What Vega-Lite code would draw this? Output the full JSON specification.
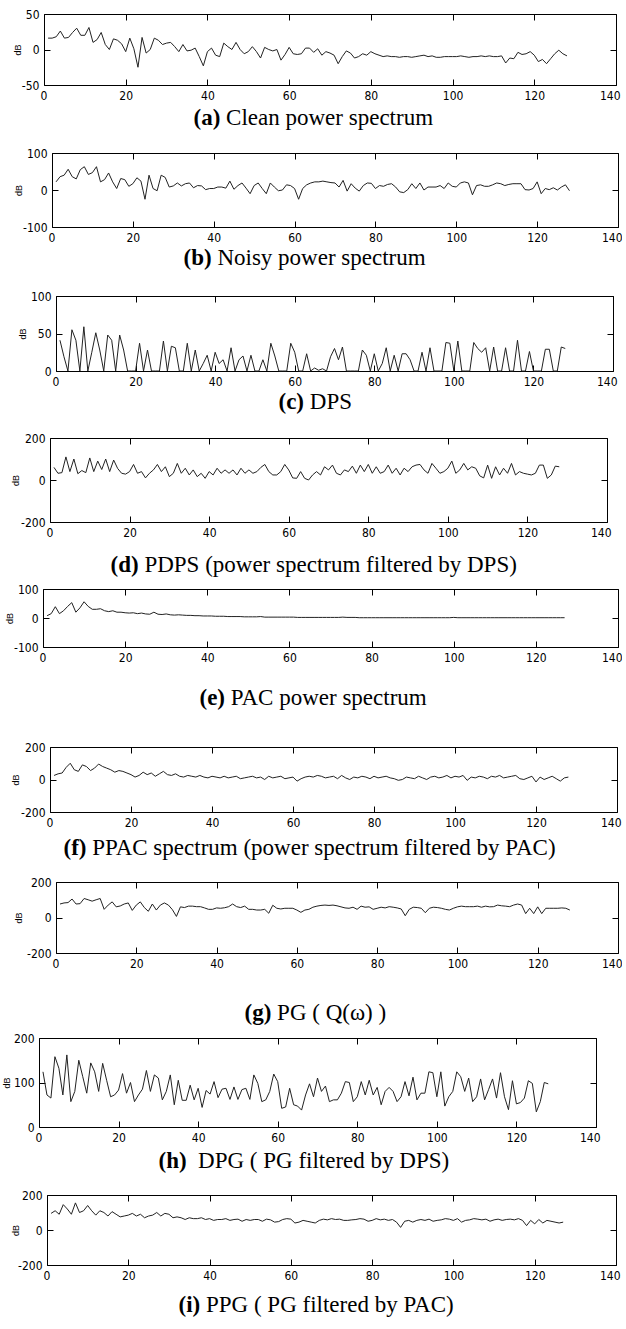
{
"$schema":"https://vega.github.io/schema/vega-lite/v6.json",
"padding":{"left":0,"top":8,"right":0,"bottom":0},
"background":"white",
"data":{"values":[
{"x":1,"a":16,"b":22,"c":41,"d":60,"e":8,"f":25,"g":76,"h":124,"i":95},
{"x":2,"a":16,"b":36,"c":19,"d":32,"e":15,"f":35,"g":82,"h":72,"i":110},
{"x":3,"a":18,"b":40,"c":0,"d":35,"e":39,"f":40,"g":84,"h":65,"i":90},
{"x":4,"a":26,"b":56,"c":55,"d":110,"e":15,"f":75,"g":104,"h":158,"i":145},
{"x":5,"a":16,"b":36,"c":41,"d":40,"e":25,"f":100,"g":76,"h":132,"i":120},
{"x":6,"a":17,"b":30,"c":0,"d":100,"e":40,"f":60,"g":78,"h":72,"i":90},
{"x":7,"a":24,"b":55,"c":59,"d":30,"e":53,"f":50,"g":107,"h":162,"i":155},
{"x":8,"a":30,"b":63,"c":0,"d":45,"e":20,"f":90,"g":100,"h":57,"i":100},
{"x":9,"a":20,"b":42,"c":25,"d":35,"e":35,"f":80,"g":92,"h":80,"i":110},
{"x":10,"a":20,"b":47,"c":51,"d":105,"e":56,"f":55,"g":100,"h":150,"i":140},
{"x":11,"a":31,"b":63,"c":28,"d":40,"e":40,"f":70,"g":107,"h":113,"i":110},
{"x":12,"a":10,"b":22,"c":0,"d":90,"e":30,"f":95,"g":46,"h":76,"i":85},
{"x":13,"a":14,"b":28,"c":48,"d":50,"e":30,"f":80,"g":70,"h":144,"i":110},
{"x":14,"a":24,"b":46,"c":41,"d":100,"e":32,"f":70,"g":88,"h":124,"i":100},
{"x":15,"a":7,"b":22,"c":0,"d":40,"e":25,"f":60,"g":60,"h":80,"i":80},
{"x":16,"a":0,"b":4,"c":48,"d":95,"e":22,"f":45,"g":65,"h":143,"i":105},
{"x":17,"a":15,"b":31,"c":28,"d":55,"e":25,"f":55,"g":76,"h":105,"i":90},
{"x":18,"a":13,"b":28,"c":0,"d":32,"e":20,"f":50,"g":82,"h":68,"i":75},
{"x":19,"a":8,"b":10,"c":0,"d":28,"e":20,"f":40,"g":40,"h":72,"i":80},
{"x":20,"a":-3,"b":17,"c":0,"d":40,"e":18,"f":30,"g":70,"h":83,"i":85},
{"x":21,"a":16,"b":33,"c":37,"d":74,"e":17,"f":15,"g":88,"h":120,"i":95},
{"x":22,"a":1,"b":24,"c":0,"d":32,"e":18,"f":25,"g":56,"h":76,"i":80},
{"x":23,"a":-25,"b":-25,"c":28,"d":40,"e":15,"f":45,"g":35,"h":100,"i":90},
{"x":24,"a":17,"b":40,"c":0,"d":10,"e":17,"f":30,"g":76,"h":57,"i":70},
{"x":25,"a":-5,"b":4,"c":0,"d":32,"e":14,"f":40,"g":42,"h":72,"i":80},
{"x":26,"a":0,"b":-2,"c":0,"d":48,"e":13,"f":20,"g":70,"h":85,"i":85},
{"x":27,"a":16,"b":40,"c":40,"d":74,"e":20,"f":35,"g":82,"h":127,"i":100},
{"x":28,"a":13,"b":34,"c":0,"d":40,"e":13,"f":50,"g":70,"h":80,"i":80},
{"x":29,"a":7,"b":8,"c":33,"d":63,"e":12,"f":30,"g":44,"h":117,"i":95},
{"x":30,"a":9,"b":11,"c":31,"d":16,"e":14,"f":25,"g":6,"h":110,"i":90},
{"x":31,"a":10,"b":19,"c":0,"d":32,"e":11,"f":35,"g":60,"h":61,"i":70},
{"x":32,"a":4,"b":11,"c":0,"d":79,"e":10,"f":20,"g":56,"h":80,"i":75},
{"x":33,"a":-3,"b":17,"c":37,"d":32,"e":11,"f":15,"g":64,"h":117,"i":70},
{"x":34,"a":7,"b":19,"c":0,"d":56,"e":10,"f":25,"g":64,"h":50,"i":60},
{"x":35,"a":-2,"b":6,"c":28,"d":24,"e":9,"f":20,"g":61,"h":105,"i":70},
{"x":36,"a":-1,"b":12,"c":0,"d":48,"e":9,"f":15,"g":61,"h":60,"i":65},
{"x":37,"a":2,"b":11,"c":10,"d":16,"e":8,"f":25,"g":54,"h":60,"i":65},
{"x":38,"a":-10,"b":1,"c":21,"d":32,"e":8,"f":15,"g":46,"h":94,"i":70},
{"x":39,"a":-23,"b":4,"c":0,"d":8,"e":7,"f":10,"g":46,"h":61,"i":60},
{"x":40,"a":-3,"b":4,"c":25,"d":40,"e":7,"f":20,"g":54,"h":87,"i":65},
{"x":41,"a":2,"b":8,"c":10,"d":24,"e":7,"f":15,"g":52,"h":44,"i":55},
{"x":42,"a":-8,"b":8,"c":15,"d":56,"e":6,"f":10,"g":55,"h":82,"i":60},
{"x":43,"a":-10,"b":5,"c":0,"d":32,"e":6,"f":20,"g":61,"h":74,"i":60},
{"x":44,"a":9,"b":24,"c":31,"d":48,"e":6,"f":10,"g":76,"h":102,"i":65},
{"x":45,"a":4,"b":2,"c":0,"d":32,"e":5,"f":15,"g":61,"h":66,"i":55},
{"x":46,"a":0,"b":12,"c":15,"d":48,"e":5,"f":20,"g":56,"h":85,"i":60},
{"x":47,"a":10,"b":19,"c":20,"d":24,"e":5,"f":5,"g":64,"h":87,"i":62},
{"x":48,"a":0,"b":5,"c":0,"d":56,"e":5,"f":10,"g":46,"h":62,"i":50},
{"x":49,"a":-6,"b":-10,"c":21,"d":32,"e":4,"f":15,"g":46,"h":90,"i":60},
{"x":50,"a":-3,"b":12,"c":0,"d":48,"e":4,"f":20,"g":42,"h":62,"i":55},
{"x":51,"a":4,"b":19,"c":0,"d":32,"e":4,"f":10,"g":42,"h":84,"i":60},
{"x":52,"a":-3,"b":4,"c":15,"d":40,"e":4,"f":15,"g":46,"h":87,"i":60},
{"x":53,"a":-12,"b":-10,"c":0,"d":60,"e":5,"f":0,"g":24,"h":62,"i":50},
{"x":54,"a":3,"b":19,"c":37,"d":74,"e":3,"f":20,"g":69,"h":117,"i":62},
{"x":55,"a":0,"b":8,"c":20,"d":40,"e":3,"f":10,"g":52,"h":98,"i":58},
{"x":56,"a":-2,"b":-2,"c":0,"d":24,"e":3,"f":15,"g":48,"h":57,"i":45},
{"x":57,"a":0,"b":0,"c":0,"d":24,"e":3,"f":20,"g":52,"h":61,"i":48},
{"x":58,"a":-15,"b":14,"c":0,"d":40,"e":3,"f":5,"g":52,"h":80,"i":60},
{"x":59,"a":-7,"b":12,"c":37,"d":74,"e":3,"f":10,"g":52,"h":119,"i":65},
{"x":60,"a":3,"b":4,"c":25,"d":48,"e":3,"f":15,"g":42,"h":102,"i":62},
{"x":61,"a":-6,"b":-25,"c":0,"d":10,"e":3,"f":-10,"g":29,"h":42,"i":40},
{"x":62,"a":-7,"b":4,"c":0,"d":8,"e":2,"f":5,"g":42,"h":45,"i":45},
{"x":63,"a":-6,"b":14,"c":23,"d":40,"e":2,"f":15,"g":46,"h":87,"i":55},
{"x":64,"a":2,"b":19,"c":0,"d":8,"e":2,"f":20,"g":58,"h":50,"i":50},
{"x":65,"a":2,"b":22,"c":4,"d":0,"e":2,"f":15,"g":64,"h":47,"i":45},
{"x":66,"a":-4,"b":22,"c":1,"d":24,"e":2,"f":25,"g":68,"h":38,"i":40},
{"x":67,"a":1,"b":24,"c":3,"d":40,"e":2,"f":20,"g":70,"h":72,"i":55},
{"x":68,"a":-8,"b":22,"c":0,"d":24,"e":2,"f":10,"g":68,"h":97,"i":62},
{"x":69,"a":-3,"b":20,"c":19,"d":63,"e":2,"f":15,"g":70,"h":68,"i":58},
{"x":70,"a":-5,"b":19,"c":30,"d":48,"e":2,"f":20,"g":66,"h":110,"i":65},
{"x":71,"a":-8,"b":8,"c":15,"d":71,"e":2,"f":5,"g":60,"h":80,"i":60},
{"x":72,"a":-20,"b":26,"c":32,"d":32,"e":2,"f":25,"g":54,"h":92,"i":62},
{"x":73,"a":-10,"b":-3,"c":0,"d":24,"e":3,"f":10,"g":52,"h":57,"i":55},
{"x":74,"a":-2,"b":17,"c":0,"d":48,"e":2,"f":0,"g":58,"h":61,"i":55},
{"x":75,"a":-5,"b":5,"c":0,"d":40,"e":2,"f":15,"g":46,"h":61,"i":58},
{"x":76,"a":-12,"b":-3,"c":0,"d":66,"e":2,"f":10,"g":64,"h":76,"i":60},
{"x":77,"a":-10,"b":12,"c":28,"d":32,"e":1,"f":20,"g":58,"h":102,"i":65},
{"x":78,"a":-6,"b":19,"c":21,"d":71,"e":1,"f":15,"g":60,"h":100,"i":62},
{"x":79,"a":-8,"b":18,"c":0,"d":40,"e":1,"f":5,"g":46,"h":57,"i":50},
{"x":80,"a":-3,"b":4,"c":23,"d":74,"e":1,"f":20,"g":52,"h":68,"i":55},
{"x":81,"a":-6,"b":12,"c":0,"d":32,"e":1,"f":10,"g":58,"h":102,"i":65},
{"x":82,"a":-8,"b":10,"c":10,"d":63,"e":1,"f":15,"g":54,"h":72,"i":58},
{"x":83,"a":-10,"b":15,"c":31,"d":32,"e":1,"f":20,"g":61,"h":105,"i":62},
{"x":84,"a":-9,"b":17,"c":0,"d":40,"e":1,"f":10,"g":58,"h":72,"i":55},
{"x":85,"a":-10,"b":8,"c":21,"d":71,"e":1,"f":5,"g":54,"h":89,"i":60},
{"x":86,"a":-10,"b":-5,"c":0,"d":32,"e":1,"f":-5,"g":48,"h":50,"i":45},
{"x":87,"a":-11,"b":-7,"c":23,"d":56,"e":1,"f":0,"g":10,"h":80,"i":15},
{"x":88,"a":-10,"b":1,"c":23,"d":24,"e":1,"f":15,"g":46,"h":89,"i":50},
{"x":89,"a":-10,"b":17,"c":15,"d":56,"e":1,"f":10,"g":58,"h":80,"i":55},
{"x":90,"a":-11,"b":4,"c":0,"d":40,"e":1,"f":5,"g":56,"h":57,"i":45},
{"x":91,"a":-10,"b":19,"c":0,"d":63,"e":1,"f":20,"g":52,"h":68,"i":55},
{"x":92,"a":-9,"b":0,"c":25,"d":71,"e":1,"f":10,"g":27,"h":102,"i":60},
{"x":93,"a":-8,"b":8,"c":0,"d":74,"e":1,"f":0,"g":52,"h":70,"i":55},
{"x":94,"a":-10,"b":8,"c":31,"d":48,"e":1,"f":15,"g":58,"h":112,"i":62},
{"x":95,"a":-9,"b":8,"c":0,"d":32,"e":1,"f":20,"g":56,"h":61,"i":50},
{"x":96,"a":-11,"b":12,"c":0,"d":79,"e":1,"f":10,"g":52,"h":76,"i":55},
{"x":97,"a":-11,"b":4,"c":0,"d":56,"e":1,"f":15,"g":46,"h":76,"i":58},
{"x":98,"a":-10,"b":19,"c":38,"d":32,"e":1,"f":25,"g":42,"h":124,"i":65},
{"x":99,"a":-10,"b":10,"c":37,"d":40,"e":1,"f":10,"g":52,"h":122,"i":62},
{"x":100,"a":-10,"b":8,"c":0,"d":56,"e":2,"f":20,"g":60,"h":68,"i":55},
{"x":101,"a":-10,"b":19,"c":40,"d":90,"e":1,"f":15,"g":64,"h":124,"i":65},
{"x":102,"a":-9,"b":22,"c":0,"d":32,"e":1,"f":25,"g":61,"h":47,"i":45},
{"x":103,"a":-10,"b":19,"c":0,"d":48,"e":1,"f":-5,"g":61,"h":68,"i":55},
{"x":104,"a":-11,"b":-13,"c":0,"d":79,"e":1,"f":15,"g":61,"h":80,"i":58},
{"x":105,"a":-10,"b":12,"c":38,"d":48,"e":1,"f":10,"g":64,"h":124,"i":65},
{"x":106,"a":-10,"b":14,"c":30,"d":63,"e":1,"f":20,"g":58,"h":113,"i":62},
{"x":107,"a":-9,"b":10,"c":25,"d":56,"e":1,"f":15,"g":64,"h":80,"i":58},
{"x":108,"a":-10,"b":10,"c":31,"d":20,"e":1,"f":5,"g":60,"h":110,"i":62},
{"x":109,"a":-9,"b":14,"c":0,"d":10,"e":1,"f":20,"g":61,"h":57,"i":50},
{"x":110,"a":-10,"b":19,"c":32,"d":71,"e":1,"f":15,"g":70,"h":68,"i":58},
{"x":111,"a":-10,"b":17,"c":0,"d":8,"e":1,"f":25,"g":66,"h":108,"i":62},
{"x":112,"a":-9,"b":12,"c":0,"d":63,"e":1,"f":10,"g":64,"h":61,"i":55},
{"x":113,"a":-19,"b":15,"c":31,"d":24,"e":1,"f":15,"g":61,"h":84,"i":60},
{"x":114,"a":-12,"b":17,"c":0,"d":56,"e":1,"f":20,"g":70,"h":108,"i":62},
{"x":115,"a":-13,"b":17,"c":0,"d":32,"e":1,"f":25,"g":76,"h":65,"i":58},
{"x":116,"a":-4,"b":17,"c":41,"d":79,"e":1,"f":5,"g":70,"h":122,"i":65},
{"x":117,"a":-7,"b":1,"c":0,"d":24,"e":1,"f":0,"g":22,"h":68,"i":55},
{"x":118,"a":-6,"b":0,"c":0,"d":40,"e":1,"f":10,"g":52,"h":39,"i":25},
{"x":119,"a":-3,"b":4,"c":26,"d":32,"e":1,"f":20,"g":22,"h":104,"i":55},
{"x":120,"a":-8,"b":22,"c":0,"d":28,"e":1,"f":-15,"g":60,"h":52,"i":35},
{"x":121,"a":-17,"b":-10,"c":0,"d":24,"e":1,"f":15,"g":22,"h":55,"i":60},
{"x":122,"a":-14,"b":4,"c":0,"d":32,"e":1,"f":0,"g":52,"h":65,"i":40},
{"x":123,"a":-20,"b":1,"c":29,"d":71,"e":1,"f":10,"g":52,"h":104,"i":55},
{"x":124,"a":-13,"b":6,"c":29,"d":71,"e":1,"f":20,"g":52,"h":98,"i":50},
{"x":125,"a":-6,"b":0,"c":0,"d":8,"e":1,"f":5,"g":52,"h":34,"i":45},
{"x":126,"a":-1,"b":8,"c":0,"d":24,"e":1,"f":-10,"g":54,"h":57,"i":40},
{"x":127,"a":-6,"b":14,"c":32,"d":66,"e":1,"f":10,"g":52,"h":100,"i":45},
{"x":128,"a":-9,"b":-2,"c":30,"d":63,"e":null,"f":15,"g":42,"h":97,"i":null}
]},
"concat":[
{"spacing":0,"hconcat":[{"width":2,"height":1,"data":{"values":[]},"mark":{"type":"point","opacity":0}},{"width":572,"height":71,"layer":[
 {"mark":{"type":"line","color":"#222","strokeWidth":1},"encoding":{
  "x":{"field":"x","type":"quantitative","scale":{"domain":[0,140],"nice":false,"zero":false},"axis":{"orient":"bottom","values":[0,20,40,60,80,100,120,140],"title":"Clean power spectrum","titleX":181.6,"titleY":39,"titleAlign":"left","titleBaseline":"alphabetic","titleFont":"Liberation Serif","titleFontSize":23,"titleFontWeight":"normal","titleColor":"black"}},
  "y":{"field":"a","type":"quantitative","scale":{"domain":[-50,50],"nice":false,"zero":false},"axis":{"orient":"left","values":[-50,0,50],"labelExpr":"''+datum.value","title":"dB","titleX":-22,"titleY":35.5,"titleAngle":270,"titleAlign":"center","titleBaseline":"bottom","titleFont":"Liberation Sans","titleFontSize":9,"titleFontWeight":"normal","titleColor":"black"}}}},
 {"mark":{"type":"line","opacity":0},"encoding":{
  "x":{"field":"x","type":"quantitative","axis":{"orient":"top","values":[0,20,40,60,80,100,120,140],"labels":false,"title":"(a)","titleX":149,"titleY":110,"titleAlign":"left","titleBaseline":"alphabetic","titleFont":"Liberation Serif","titleFontSize":23,"titleFontWeight":"bold","titleColor":"black"}},
  "y":{"field":"a","type":"quantitative","axis":{"orient":"right","values":[-50,0,50],"labels":false,"title":".","titleX":-614,"titleY":133,"titleAngle":0,"titleAlign":"left","titleBaseline":"bottom","titleFontSize":2,"titleOpacity":0}}}}
],"resolve":{"axis":{"x":"independent","y":"independent"}}}]},
{"spacing":0,"hconcat":[{"width":2,"height":1,"data":{"values":[]},"mark":{"type":"point","opacity":0}},{"width":566,"height":74,"layer":[
 {"mark":{"type":"line","color":"#222","strokeWidth":1},"encoding":{
  "x":{"field":"x","type":"quantitative","scale":{"domain":[0,140],"nice":false,"zero":false},"axis":{"orient":"bottom","values":[0,20,40,60,80,100,120,140],"title":"Noisy power spectrum","titleX":164.9,"titleY":37,"titleAlign":"left","titleBaseline":"alphabetic","titleFont":"Liberation Serif","titleFontSize":23,"titleFontWeight":"normal","titleColor":"black"}},
  "y":{"field":"b","type":"quantitative","scale":{"domain":[-100,100],"nice":false,"zero":false},"axis":{"orient":"left","values":[-100,0,100],"labelExpr":"''+datum.value","title":"dB","titleX":-29,"titleY":37,"titleAngle":270,"titleAlign":"center","titleBaseline":"bottom","titleFont":"Liberation Sans","titleFontSize":9,"titleFontWeight":"normal","titleColor":"black"}}}},
 {"mark":{"type":"line","opacity":0},"encoding":{
  "x":{"field":"x","type":"quantitative","axis":{"orient":"top","values":[0,20,40,60,80,100,120,140],"labels":false,"title":"(b)","titleX":131,"titleY":111,"titleAlign":"left","titleBaseline":"alphabetic","titleFont":"Liberation Serif","titleFontSize":23,"titleFontWeight":"bold","titleColor":"black"}},
  "y":{"field":"b","type":"quantitative","axis":{"orient":"right","values":[-100,0,100],"labels":false,"title":".","titleX":-616,"titleY":137,"titleAngle":0,"titleAlign":"left","titleBaseline":"bottom","titleFontSize":2,"titleOpacity":0}}}}
],"resolve":{"axis":{"x":"independent","y":"independent"}}}]},
{"spacing":0,"hconcat":[{"width":2,"height":1,"data":{"values":[]},"mark":{"type":"point","opacity":0}},{"width":557,"height":75,"layer":[
 {"mark":{"type":"line","color":"#222","strokeWidth":1},"encoding":{
  "x":{"field":"x","type":"quantitative","scale":{"domain":[0,140],"nice":false,"zero":false},"axis":{"orient":"bottom","values":[0,20,40,60,80,100,120,140],"title":"DPS","titleX":253.3,"titleY":37,"titleAlign":"left","titleBaseline":"alphabetic","titleFont":"Liberation Serif","titleFontSize":23,"titleFontWeight":"normal","titleColor":"black"}},
  "y":{"field":"c","type":"quantitative","scale":{"domain":[0,100],"nice":false,"zero":false},"axis":{"orient":"left","values":[0,50,100],"labelExpr":"''+datum.value","title":"dB","titleX":-29,"titleY":37.5,"titleAngle":270,"titleAlign":"center","titleBaseline":"bottom","titleFont":"Liberation Sans","titleFontSize":9,"titleFontWeight":"normal","titleColor":"black"}}}},
 {"mark":{"type":"line","opacity":0},"encoding":{
  "x":{"field":"x","type":"quantitative","axis":{"orient":"top","values":[0,20,40,60,80,100,120,140],"labels":false,"title":"(c)","titleX":222,"titleY":112,"titleAlign":"left","titleBaseline":"alphabetic","titleFont":"Liberation Serif","titleFontSize":23,"titleFontWeight":"bold","titleColor":"black"}},
  "y":{"field":"c","type":"quantitative","axis":{"orient":"right","values":[0,50,100],"labels":false,"title":".","titleX":-611,"titleY":136,"titleAngle":0,"titleAlign":"left","titleBaseline":"bottom","titleFontSize":2,"titleOpacity":0}}}}
],"resolve":{"axis":{"x":"independent","y":"independent"}}}]},
{"spacing":0,"hconcat":[{"width":2,"height":1,"data":{"values":[]},"mark":{"type":"point","opacity":0}},{"width":557,"height":84,"layer":[
 {"mark":{"type":"line","color":"#222","strokeWidth":1},"encoding":{
  "x":{"field":"x","type":"quantitative","scale":{"domain":[0,140],"nice":false,"zero":false},"axis":{"orient":"bottom","values":[0,20,40,60,80,100,120,140],"title":"PDPS (power spectrum filtered by DPS)","titleX":93.9,"titleY":49,"titleAlign":"left","titleBaseline":"alphabetic","titleFont":"Liberation Serif","titleFontSize":23,"titleFontWeight":"normal","titleColor":"black"}},
  "y":{"field":"d","type":"quantitative","scale":{"domain":[-200,200],"nice":false,"zero":false},"axis":{"orient":"left","values":[-200,0,200],"labelExpr":"''+datum.value","title":"dB","titleX":-30,"titleY":42,"titleAngle":270,"titleAlign":"center","titleBaseline":"bottom","titleFont":"Liberation Sans","titleFontSize":9,"titleFontWeight":"normal","titleColor":"black"}}}},
 {"mark":{"type":"line","opacity":0},"encoding":{
  "x":{"field":"x","type":"quantitative","axis":{"orient":"top","values":[0,20,40,60,80,100,120,140],"labels":false,"title":"(d)","titleX":60,"titleY":133,"titleAlign":"left","titleBaseline":"alphabetic","titleFont":"Liberation Serif","titleFontSize":23,"titleFontWeight":"bold","titleColor":"black"}},
  "y":{"field":"d","type":"quantitative","axis":{"orient":"right","values":[-200,0,200],"labels":false,"title":".","titleX":-605,"titleY":145,"titleAngle":0,"titleAlign":"left","titleBaseline":"bottom","titleFontSize":2,"titleOpacity":0}}}}
],"resolve":{"axis":{"x":"independent","y":"independent"}}}]},
{"spacing":0,"hconcat":[{"width":2,"height":1,"data":{"values":[]},"mark":{"type":"point","opacity":0}},{"width":575,"height":58,"layer":[
 {"mark":{"type":"line","color":"#222","strokeWidth":1},"encoding":{
  "x":{"field":"x","type":"quantitative","scale":{"domain":[0,140],"nice":false,"zero":false},"axis":{"orient":"bottom","values":[0,20,40,60,80,100,120,140],"title":"PAC power spectrum","titleX":187.3,"titleY":57,"titleAlign":"left","titleBaseline":"alphabetic","titleFont":"Liberation Serif","titleFontSize":23,"titleFontWeight":"normal","titleColor":"black"}},
  "y":{"field":"e","type":"quantitative","scale":{"domain":[-100,100],"nice":false,"zero":false},"axis":{"orient":"left","values":[-100,0,100],"labelExpr":"''+datum.value","title":"dB","titleX":-29,"titleY":29,"titleAngle":270,"titleAlign":"center","titleBaseline":"bottom","titleFont":"Liberation Sans","titleFontSize":9,"titleFontWeight":"normal","titleColor":"black"}}}},
 {"mark":{"type":"line","opacity":0},"encoding":{
  "x":{"field":"x","type":"quantitative","axis":{"orient":"top","values":[0,20,40,60,80,100,120,140],"labels":false,"title":"(e)","titleX":156,"titleY":115,"titleAlign":"left","titleBaseline":"alphabetic","titleFont":"Liberation Serif","titleFontSize":23,"titleFontWeight":"bold","titleColor":"black"}},
  "y":{"field":"e","type":"quantitative","axis":{"orient":"right","values":[-100,0,100],"labels":false,"title":".","titleX":-616,"titleY":152,"titleAngle":0,"titleAlign":"left","titleBaseline":"bottom","titleFontSize":2,"titleOpacity":0}}}}
],"resolve":{"axis":{"x":"independent","y":"independent"}}}]},
{"spacing":0,"hconcat":[{"width":2,"height":1,"data":{"values":[]},"mark":{"type":"point","opacity":0}},{"width":567,"height":65,"layer":[
 {"mark":{"type":"line","color":"#222","strokeWidth":1},"encoding":{
  "x":{"field":"x","type":"quantitative","scale":{"domain":[0,140],"nice":false,"zero":false},"axis":{"orient":"bottom","values":[0,20,40,60,80,100,120,140],"title":"PPAC spectrum (power spectrum filtered by PAC)","titleX":41.7,"titleY":42,"titleAlign":"left","titleBaseline":"alphabetic","titleFont":"Liberation Serif","titleFontSize":23,"titleFontWeight":"normal","titleColor":"black"}},
  "y":{"field":"f","type":"quantitative","scale":{"domain":[-200,200],"nice":false,"zero":false},"axis":{"orient":"left","values":[-200,0,200],"labelExpr":"''+datum.value","title":"dB","titleX":-30,"titleY":32.5,"titleAngle":270,"titleAlign":"center","titleBaseline":"bottom","titleFont":"Liberation Sans","titleFontSize":9,"titleFontWeight":"normal","titleColor":"black"}}}},
 {"mark":{"type":"line","opacity":0},"encoding":{
  "x":{"field":"x","type":"quantitative","axis":{"orient":"top","values":[0,20,40,60,80,100,120,140],"labels":false,"title":"(f)","titleX":13,"titleY":107,"titleAlign":"left","titleBaseline":"alphabetic","titleFont":"Liberation Serif","titleFontSize":23,"titleFontWeight":"bold","titleColor":"black"}},
  "y":{"field":"f","type":"quantitative","axis":{"orient":"right","values":[-200,0,200],"labels":false,"title":".","titleX":-615,"titleY":129,"titleAngle":0,"titleAlign":"left","titleBaseline":"bottom","titleFontSize":2,"titleOpacity":0}}}}
],"resolve":{"axis":{"x":"independent","y":"independent"}}}]},
{"spacing":0,"hconcat":[{"width":2,"height":1,"data":{"values":[]},"mark":{"type":"point","opacity":0}},{"width":562,"height":71,"layer":[
 {"mark":{"type":"line","color":"#222","strokeWidth":1},"encoding":{
  "x":{"field":"x","type":"quantitative","scale":{"domain":[0,140],"nice":false,"zero":false},"axis":{"orient":"bottom","values":[0,20,40,60,80,100,120,140],"title":"PG ( Q(ω) )","titleX":220.6,"titleY":66,"titleAlign":"left","titleBaseline":"alphabetic","titleFont":"Liberation Serif","titleFontSize":23,"titleFontWeight":"normal","titleColor":"black"}},
  "y":{"field":"g","type":"quantitative","scale":{"domain":[-200,200],"nice":false,"zero":false},"axis":{"orient":"left","values":[-200,0,200],"labelExpr":"''+datum.value","title":"dB","titleX":-33,"titleY":35.5,"titleAngle":270,"titleAlign":"center","titleBaseline":"bottom","titleFont":"Liberation Sans","titleFontSize":9,"titleFontWeight":"normal","titleColor":"black"}}}},
 {"mark":{"type":"line","opacity":0},"encoding":{
  "x":{"field":"x","type":"quantitative","axis":{"orient":"top","values":[0,20,40,60,80,100,120,140],"labels":false,"title":"(g)","titleX":188,"titleY":137,"titleAlign":"left","titleBaseline":"alphabetic","titleFont":"Liberation Serif","titleFontSize":23,"titleFontWeight":"bold","titleColor":"black"}},
  "y":{"field":"g","type":"quantitative","axis":{"orient":"right","values":[-200,0,200],"labels":false,"title":".","titleX":-616,"titleY":150,"titleAngle":0,"titleAlign":"left","titleBaseline":"bottom","titleFontSize":2,"titleOpacity":0}}}}
],"resolve":{"axis":{"x":"independent","y":"independent"}}}]},
{"spacing":0,"hconcat":[{"width":2,"height":1,"data":{"values":[]},"mark":{"type":"point","opacity":0}},{"width":557,"height":89,"layer":[
 {"mark":{"type":"line","color":"#222","strokeWidth":1},"encoding":{
  "x":{"field":"x","type":"quantitative","scale":{"domain":[0,140],"nice":false,"zero":false},"axis":{"orient":"bottom","values":[0,20,40,60,80,100,120,140],"title":"DPG ( PG filtered by DPS)","titleX":158.6,"titleY":40,"titleAlign":"left","titleBaseline":"alphabetic","titleFont":"Liberation Serif","titleFontSize":23,"titleFontWeight":"normal","titleColor":"black"}},
  "y":{"field":"h","type":"quantitative","scale":{"domain":[0,200],"nice":false,"zero":false},"axis":{"orient":"left","values":[0,100,200],"labelExpr":"''+datum.value","title":"dB","titleX":-28,"titleY":44.5,"titleAngle":270,"titleAlign":"center","titleBaseline":"bottom","titleFont":"Liberation Sans","titleFontSize":9,"titleFontWeight":"normal","titleColor":"black"}}}},
 {"mark":{"type":"line","opacity":0},"encoding":{
  "x":{"field":"x","type":"quantitative","axis":{"orient":"top","values":[0,20,40,60,80,100,120,140],"labels":false,"title":"(h)","titleX":119,"titleY":129,"titleAlign":"left","titleBaseline":"alphabetic","titleFont":"Liberation Serif","titleFontSize":23,"titleFontWeight":"bold","titleColor":"black"}},
  "y":{"field":"h","type":"quantitative","axis":{"orient":"right","values":[0,100,200],"labels":false,"title":".","titleX":-593,"titleY":151,"titleAngle":0,"titleAlign":"left","titleBaseline":"bottom","titleFontSize":2,"titleOpacity":0}}}}
],"resolve":{"axis":{"x":"independent","y":"independent"}}}]},
{"spacing":0,"hconcat":[{"width":2,"height":1,"data":{"values":[]},"mark":{"type":"point","opacity":0}},{"width":569,"height":70,"layer":[
 {"mark":{"type":"line","color":"#222","strokeWidth":1},"encoding":{
  "x":{"field":"x","type":"quantitative","scale":{"domain":[0,140],"nice":false,"zero":false},"axis":{"orient":"bottom","values":[0,20,40,60,80,100,120,140],"title":"PPG ( PG filtered by PAC)","titleX":158.5,"titleY":46,"titleAlign":"left","titleBaseline":"alphabetic","titleFont":"Liberation Serif","titleFontSize":23,"titleFontWeight":"normal","titleColor":"black"}},
  "y":{"field":"i","type":"quantitative","scale":{"domain":[-200,200],"nice":false,"zero":false},"axis":{"orient":"left","values":[-200,0,200],"labelExpr":"''+datum.value","title":"dB","titleX":-27,"titleY":35,"titleAngle":270,"titleAlign":"center","titleBaseline":"bottom","titleFont":"Liberation Sans","titleFontSize":9,"titleFontWeight":"normal","titleColor":"black"}}}},
 {"mark":{"type":"line","opacity":0},"encoding":{
  "x":{"field":"x","type":"quantitative","axis":{"orient":"top","values":[0,20,40,60,80,100,120,140],"labels":false,"title":"(i)","titleX":131,"titleY":116,"titleAlign":"left","titleBaseline":"alphabetic","titleFont":"Liberation Serif","titleFontSize":23,"titleFontWeight":"bold","titleColor":"black"}},
  "y":{"field":"i","type":"quantitative","axis":{"orient":"right","values":[-200,0,200],"labels":false,"title":".","titleX":-614,"titleY":125,"titleAngle":0,"titleAlign":"left","titleBaseline":"bottom","titleFontSize":2,"titleOpacity":0}}}}
],"resolve":{"axis":{"x":"independent","y":"independent"}}}]}
],
"columns":1,
"align":"none",
"bounds":"full",
"spacing":0,
"config":{
 "view":{"stroke":null},
 "axis":{"grid":false,"domainColor":"black","domainWidth":1,"tickColor":"black","tickWidth":1,"tickSize":-6,"labelPadding":11,"labelFlush":false,"labelOverlap":false,"labelColor":"black","labelFont":"Liberation Sans Narrow, DejaVu Sans Condensed, Arial Narrow, sans-serif","labelFontSize":12},
 "axisBottom":{"labelFlush":true,"labelFlushOffset":4}
}
}
